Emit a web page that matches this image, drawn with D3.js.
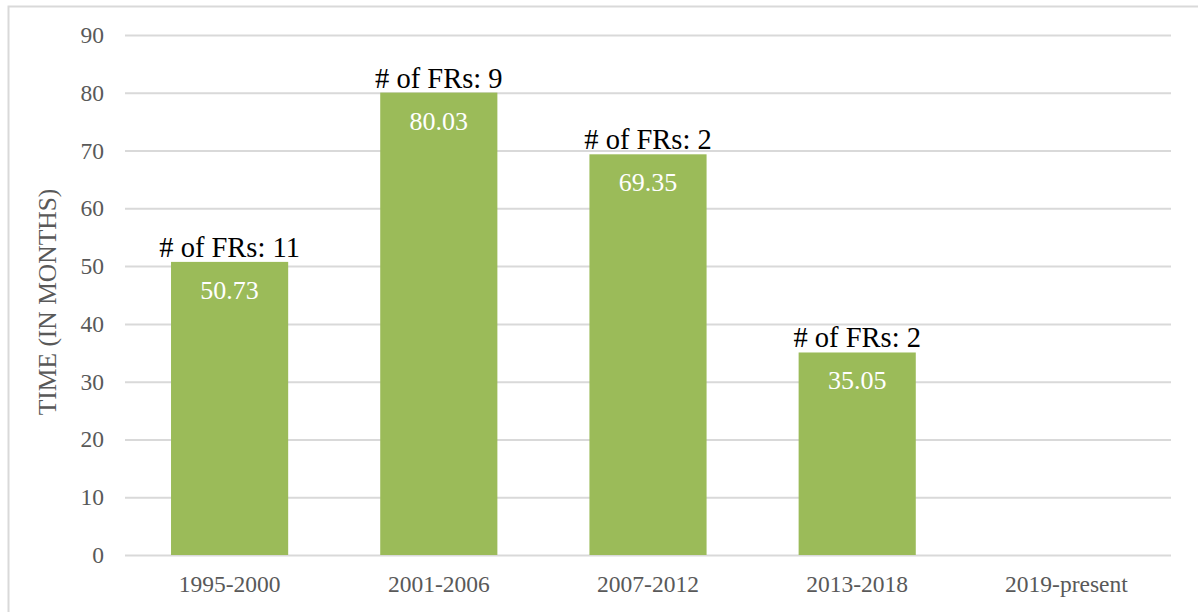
<!DOCTYPE html>
<html>
<head>
<meta charset="utf-8">
<script src="https://cdn.jsdelivr.net/npm/d3@7"></script>
<style>
  body { margin: 0; background: #fff; }
  text { font-family: "Liberation Serif", "Times New Roman", serif; }
</style>
</head>
<body>
<div id="chart"></div>
<script>
// data
var periods = ["1995-2000", "2001-2006", "2007-2012", "2013-2018", "2019-present"];
var months = [50.73, 80.03, 69.35, 35.05, null];
var frCounts = [11, 9, 2, 2, null];
var yTicks = [0, 10, 20, 30, 40, 50, 60, 70, 80, 90];

var W = 1198, H = 612;
var margin = {top: 35, right: 27, bottom: 57, left: 125};
var width = W - margin.left - margin.right,
    height = H - margin.top - margin.bottom;

var svg = d3.select("#chart")
    .append("svg")
    .attr("width", W)
    .attr("height", H);

// outer frame (runs off the right and bottom)
svg.append("rect")
    .attr("x", 8.5).attr("y", 6.5)
    .attr("width", W).attr("height", H)
    .attr("fill", "none")
    .attr("stroke", "#d9d9d9")
    .attr("stroke-width", 2);

var g = svg.append("g")
    .attr("transform", "translate(" + margin.left + "," + margin.top + ")");

var x = d3.scaleBand()
    .domain(periods)
    .range([0, width])
    .paddingInner(0.44)
    .paddingOuter(0.22);

var y = d3.scaleLinear()
    .domain([0, 90])
    .range([height, 0]);

// gridlines + y labels
var yAxis = g.append("g")
    .call(d3.axisLeft(y).tickValues(yTicks).tickSize(-width).tickPadding(21));
yAxis.select(".domain").remove();
yAxis.selectAll(".tick line").attr("stroke", "#d9d9d9").attr("stroke-width", 2);
yAxis.selectAll(".tick text")
    .attr("fill", "#595959")
    .style("font-size", "23.5px");

// x labels
var xAxis = g.append("g")
    .attr("transform", "translate(0," + height + ")")
    .call(d3.axisBottom(x).tickSize(0).tickPadding(20));
xAxis.select(".domain").remove();
xAxis.selectAll(".tick text")
    .attr("fill", "#595959")
    .style("font-size", "23.5px");

var rows = periods.map(function(p, i) {
    return {period: p, value: months[i], count: frCounts[i]};
}).filter(function(d) { return d.value != null; });

// bars
g.selectAll(".bar")
    .data(rows)
    .enter()
    .append("rect")
    .attr("class", "bar")
    .attr("x", function(d) { return x(d.period); })
    .attr("y", function(d) { return y(d.value); })
    .attr("width", x.bandwidth())
    .attr("height", function(d) { return height - y(d.value); })
    .attr("fill", "#9bbb59");

// values inside bars
g.selectAll(".val")
    .data(rows)
    .enter()
    .append("text")
    .attr("class", "val")
    .attr("x", function(d) { return x(d.period) + x.bandwidth() / 2; })
    .attr("y", function(d) { return y(d.value) + 37; })
    .attr("text-anchor", "middle")
    .attr("fill", "#fff")
    .style("font-size", "26px")
    .text(function(d) { return d.value.toFixed(2); });

// FR counts above bars
g.selectAll(".cnt")
    .data(rows)
    .enter()
    .append("text")
    .attr("class", "cnt")
    .attr("x", function(d) { return x(d.period) + x.bandwidth() / 2; })
    .attr("y", function(d) { return y(d.value) - 5; })
    .attr("text-anchor", "middle")
    .attr("fill", "#000")
    .style("font-size", "28.5px")
    .text(function(d) { return "# of FRs: " + d.count; });

// y title
svg.append("text")
    .attr("transform", "translate(56,302) rotate(-90)")
    .attr("text-anchor", "middle")
    .attr("fill", "#595959")
    .style("font-size", "25.5px")
    .text("TIME (IN MONTHS)");
</script>
</body>
</html>
